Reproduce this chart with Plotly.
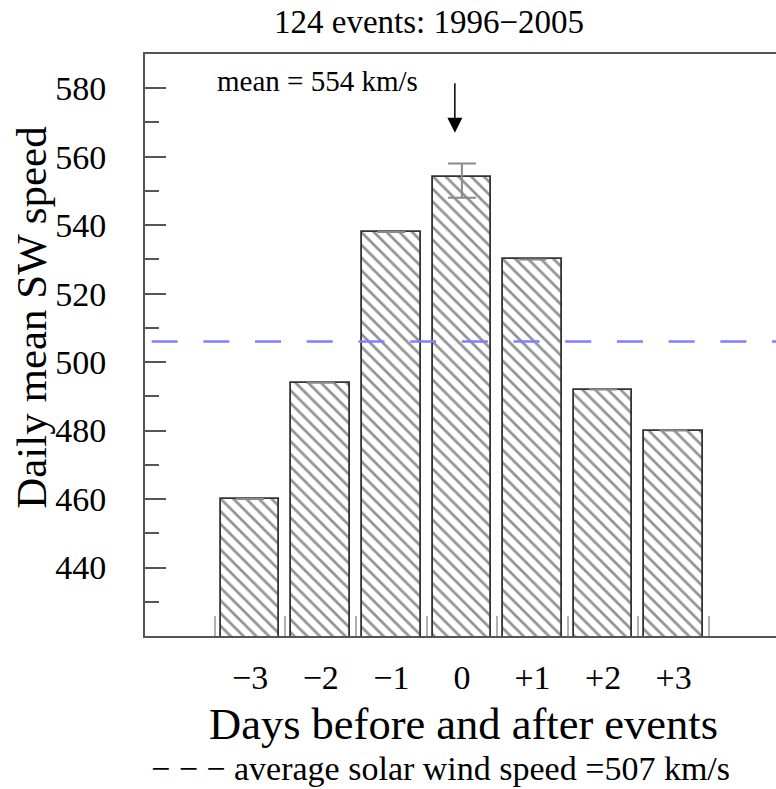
import plotly.graph_objects as go

# ---- data ----
days = [-3, -2, -1, 0, 1, 2, 3]
day_labels = ["\u22123", "\u22122", "\u22121", "0", "+1", "+2", "+3"]
speeds = [460, 494, 538, 554, 530, 492, 480]
err_plus = [0, 0, 0, 4, 0, 0, 0]
err_minus = [0, 0, 0, 6, 0, 0, 0]
avg_speed_line = 506          # dashed reference line as drawn
avg_speed_label = 507         # value quoted in the caption
mean_peak = 554
n_events = 124
years = ("1996", "2005")

y_major = [440, 460, 480, 500, 520, 540, 560, 580]
y_minor = [430, 450, 470, 490, 510, 530, 550, 570]
right_major = [440, 460, 480, 500, 520, 540]
right_minor = [430, 450, 470, 490, 510, 530]
x_boundaries = [-3.5, -2.5, -1.5, -0.5, 0.5, 1.5, 2.5, 3.5]

FONT = "Liberation Serif, Times New Roman, serif"
AX = "#555555"

fig = go.Figure()

fig.add_trace(go.Bar(
    x=days, y=speeds, width=0.83,
    marker=dict(
        color="white",
        line=dict(color="#333333", width=1.8),
        pattern=dict(shape="\\", fgcolor="#262626", bgcolor="white", size=9, solidity=0.3),
    ),
    error_y=dict(type="data", symmetric=False, array=err_plus, arrayminus=err_minus,
                 color="#8a8a8a", thickness=2, width=14),
    showlegend=False,
))

fig.add_hline(y=avg_speed_line, x0=0.0105, x1=1,
              line=dict(color="#7f7fff", width=2.5, dash="26px,25.7px"))

fig.update_layout(
    width=776, height=789,
    margin=dict(l=145, r=0, t=54, b=153),
    plot_bgcolor="white", paper_bgcolor="white",
    font=dict(family=FONT, color="black"),
    bargap=0,
    xaxis=dict(
        range=[-4.49, 4.45],
        tickmode="array", tickvals=days, ticktext=day_labels,
        ticks="", showgrid=False, zeroline=False,
        showline=True, linecolor=AX, linewidth=2, mirror=True,
        tickfont=dict(size=34, family=FONT),
        ticklabelstandoff=10,
        minor=dict(tickmode="array", tickvals=x_boundaries, ticks="inside",
                   ticklen=20, tickcolor="#b0b0b0", tickwidth=2, showgrid=False),
    ),
    yaxis=dict(
        range=[420, 590],
        tickmode="array", tickvals=y_major,
        ticks="inside", ticklen=21, tickcolor=AX, tickwidth=1.5,
        showgrid=False, zeroline=False,
        showline=True, linecolor=AX, linewidth=2, mirror=False,
        tickfont=dict(size=34, family=FONT),
        ticklabelstandoff=30,
        minor=dict(tickmode="array", tickvals=y_minor, ticks="inside",
                   ticklen=14, tickcolor=AX, tickwidth=1.5, showgrid=False),
    ),
    yaxis2=dict(
        range=[420, 590], overlaying="y", side="right", anchor="x",
        tickmode="array", tickvals=right_major, showticklabels=False,
        ticks="inside", ticklen=20, tickcolor=AX, tickwidth=1.5,
        showgrid=False, zeroline=False, showline=False,
        minor=dict(tickmode="array", tickvals=right_minor, ticks="inside",
                   ticklen=13, tickcolor=AX, tickwidth=1.5, showgrid=False),
    ),
)

annotations = [
    dict(text=f"{n_events} events: {years[0]}\u2212{years[1]}",
         xref="paper", yref="paper", x=0.45, y=1.0555,
         xanchor="center", yanchor="middle", showarrow=False,
         font=dict(size=33, family=FONT)),
    dict(text="Daily mean SW speed",
         xref="paper", yref="paper", x=-0.181, y=0.548, textangle=-90,
         xanchor="center", yanchor="middle", showarrow=False,
         font=dict(size=43, family=FONT)),
    dict(text="Days before and after events",
         xref="paper", yref="paper", x=0.5055, y=-0.151,
         xanchor="center", yanchor="middle", showarrow=False,
         font=dict(size=44.5, family=FONT)),
    dict(text=f"\u2212 \u2212 \u2212 average solar wind speed ={avg_speed_label} km/s",
         xref="paper", yref="paper", x=0.006, y=-0.2629,
         xanchor="left", yanchor="bottom", showarrow=False,
         font=dict(size=34, family=FONT)),
    dict(text=f"mean = {mean_peak} km/s",
         xref="paper", yref="paper", x=0.274, y=0.9536,
         xanchor="center", yanchor="middle", showarrow=False,
         font=dict(size=29, family=FONT)),
    dict(text="", x=-0.1, y=567, xref="x", yref="y",
         showarrow=True, ax=0, ay=-51, axref="pixel", ayref="pixel",
         arrowhead=2, arrowsize=2.0, arrowwidth=1.5, arrowcolor="black"),
]
fig.update_layout(annotations=annotations)

fig.write_html("out.html", config={"displayModeBar": False},
               post_script="document.body.style.margin='0px';document.body.style.overflow='hidden';")
